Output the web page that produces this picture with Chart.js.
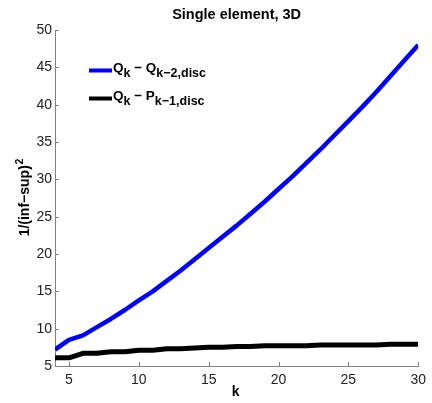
<!DOCTYPE html>
<html>
<head>
<meta charset="utf-8">
<script src="https://cdn.jsdelivr.net/npm/chart.js@4.4.1/dist/chart.umd.min.js"></script>
<style>
  html, body { margin: 0; padding: 0; background: #fff; }
  #wrap { width: 432px; height: 403px; }
</style>
</head>
<body>
<div id="wrap"><canvas id="plot" width="432" height="403"></canvas></div>
<script>
// polynomial degree k
const kValues = [4, 5, 6, 7, 8, 9, 10, 11, 12, 13, 14, 15, 16, 17, 18, 19, 20, 21, 22, 23, 24, 25, 26, 27, 28, 29, 30];

// Q_k - Q_{k-2,disc}
const qqValues = [7.2, 8.5, 9.1, 10.2, 11.3, 12.5, 13.8, 15.0, 16.4, 17.8, 19.3, 20.8, 22.3, 23.8, 25.4,
                  27.0, 28.7, 30.4, 32.2, 34.0, 35.9, 37.8, 39.7, 41.7, 43.8, 45.9, 48.0];

// Q_k - P_{k-1,disc}
const qpValues = [6.1, 6.1, 6.7, 6.7, 6.9, 6.9, 7.1, 7.1, 7.3, 7.3, 7.4, 7.5, 7.5, 7.6, 7.6,
                  7.7, 7.7, 7.7, 7.7, 7.8, 7.8, 7.8, 7.8, 7.8, 7.9, 7.9, 7.9];

const xTicks = [5, 10, 15, 20, 25, 30];
const yTicks = [5, 10, 15, 20, 25, 30, 35, 40, 45, 50];

// legend text as [text, isSubscript] pieces
const legendNames = [
  [['Q', false], ['k', true], [' \u2212 Q', false], ['k\u22122,disc', true]],
  [['Q', false], ['k', true], [' \u2212 P', false], ['k\u22121,disc', true]]
];

const FONT = "'Liberation Sans', Arial, Helvetica, sans-serif";
const AXIS_GRAY = '#808080';

const toPoints = vals => vals.map((v, i) => ({ x: kValues[i], y: v }));

// title, axis labels, inward ticks and the legend
const decorations = {
  id: 'decorations',
  afterDraw(chart) {
    const ctx = chart.ctx;
    const area = chart.chartArea;
    const xs = chart.scales.x, ys = chart.scales.y;

    ctx.save();
    // inward tick marks
    ctx.strokeStyle = AXIS_GRAY;
    ctx.lineWidth = 1;
    ctx.beginPath();
    xTicks.forEach(v => {
      const px = Math.round(xs.getPixelForValue(v)) + 0.5;
      ctx.moveTo(px, area.bottom);
      ctx.lineTo(px, area.bottom - 4);
    });
    yTicks.forEach(v => {
      const py = Math.round(ys.getPixelForValue(v)) + 0.5;
      ctx.moveTo(area.left, py);
      ctx.lineTo(area.left + 4, py);
    });
    ctx.stroke();

    ctx.fillStyle = '#000';
    // title
    ctx.font = 'bold 14.5px ' + FONT;
    ctx.textAlign = 'center';
    ctx.textBaseline = 'alphabetic';
    ctx.fillText('Single element, 3D', (area.left + area.right) / 2, 19);

    // x label
    ctx.font = 'bold 14px ' + FONT;
    ctx.fillText('k', (area.left + area.right) / 2 - 1, 396);

    // y label with superscript
    ctx.save();
    ctx.translate(29, (area.top + area.bottom) / 2);
    ctx.rotate(-Math.PI / 2);
    ctx.font = 'bold 14px ' + FONT;
    const main = '1/(inf\u2212sup)';
    const wMain = ctx.measureText(main).width;
    ctx.font = 'bold 10px ' + FONT;
    const wSup = ctx.measureText('2').width;
    const x0 = -(wMain + wSup) / 2;
    ctx.textAlign = 'left';
    ctx.font = 'bold 14px ' + FONT;
    ctx.fillText(main, x0, 0);
    ctx.font = 'bold 10px ' + FONT;
    ctx.fillText('2', x0 + wMain + 1, -6);
    ctx.restore();

    // legend
    const rows = [70, 98];
    chart.data.datasets.forEach((ds, i) => {
      const y = rows[i];
      ctx.strokeStyle = ds.borderColor;
      ctx.lineWidth = 4;
      ctx.beginPath();
      ctx.moveTo(89, y + 0.5);
      ctx.lineTo(112, y + 0.5);
      ctx.stroke();
      let x = 113;
      ctx.fillStyle = '#000';
      ctx.textAlign = 'left';
      legendNames[i].forEach(([txt, sub]) => {
        ctx.font = (sub ? 'bold 12.5px ' : 'bold 13.5px ') + FONT;
        ctx.fillText(txt, x, y + 2 + (sub ? 5 : 0));
        x += ctx.measureText(txt).width;
      });
    });
    ctx.restore();
  }
};

new Chart(document.getElementById('plot').getContext('2d'), {
  type: 'line',
  data: {
    datasets: [
      {
        label: 'Q_k - Q_{k-2,disc}',
        data: toPoints(qqValues),
        borderColor: '#0000ff',
        borderWidth: 4.5,
        pointRadius: 0,
        tension: 0,
        borderJoinStyle: 'round',
        borderCapStyle: 'butt'
      },
      {
        label: 'Q_k - P_{k-1,disc}',
        data: toPoints(qpValues),
        borderColor: '#000000',
        borderWidth: 5,
        pointRadius: 0,
        tension: 0,
        borderJoinStyle: 'round',
        borderCapStyle: 'butt'
      }
    ]
  },
  options: {
    responsive: false,
    animation: false,
    events: [],
    layout: { padding: { left: 0, right: 10, top: 30, bottom: 0 } },
    plugins: {
      legend: { display: false },
      title: { display: false },
      tooltip: { enabled: false }
    },
    scales: {
      x: {
        type: 'linear',
        min: 4,
        max: 30,
        afterBuildTicks: s => { s.ticks = xTicks.map(v => ({ value: v })); },
        afterFit: s => { s.height = 37; },
        grid: { drawOnChartArea: false, drawTicks: false },
        border: { color: AXIS_GRAY, width: 1 },
        ticks: { padding: 6, color: '#222', font: { family: FONT, size: 14 }, maxRotation: 0 }
      },
      y: {
        type: 'linear',
        min: 5,
        max: 50,
        afterBuildTicks: s => { s.ticks = yTicks.map(v => ({ value: v })); },
        afterFit: s => { s.width = 55; },
        grid: { drawOnChartArea: false, drawTicks: false },
        border: { color: AXIS_GRAY, width: 1 },
        ticks: { padding: 3, color: '#222', font: { family: FONT, size: 14 } }
      }
    }
  },
  plugins: [decorations]
});
</script>
</body>
</html>
